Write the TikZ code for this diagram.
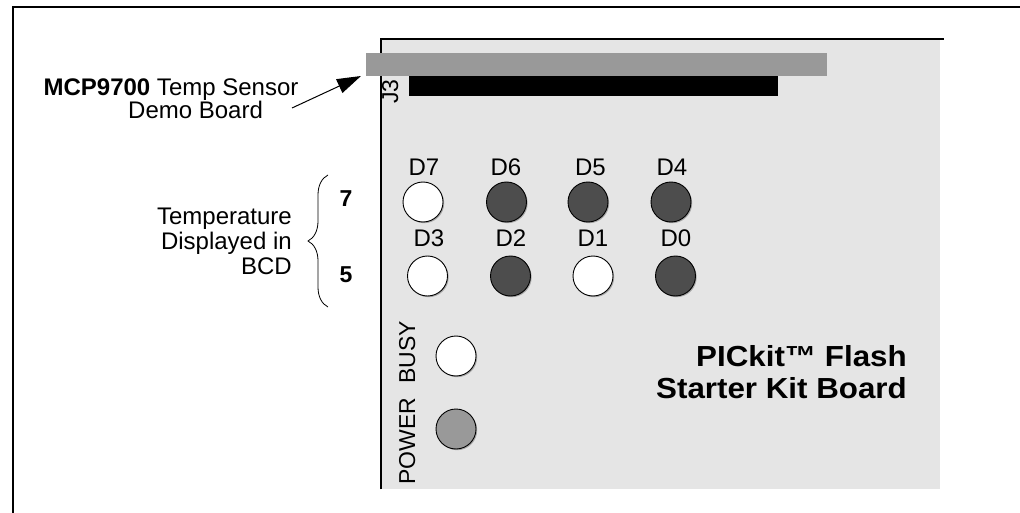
\documentclass[tikz,border=0pt]{standalone}
\usepackage{fontspec}
\setmainfont{Liberation Sans}
\newfontfamily\titlefont{Liberation Sans}[FakeStretch=1.08]
\usetikzlibrary{arrows.meta,decorations.pathreplacing,shadows}
\definecolor{boardgray}{HTML}{E5E5E5}
\definecolor{bargray}{HTML}{999999}
\definecolor{ledoff}{HTML}{4D4D4D}
\definecolor{ledpow}{HTML}{999999}
\begin{document}
\begin{tikzpicture}[x=1pt,y=-1pt,
  led/.style={circle, draw=black, line width=0.9pt, minimum size=40pt, inner sep=0pt,
    drop shadow={shadow xshift=1.2pt, shadow yshift=-1.2pt, fill=black!50, opacity=0.6}},
  ledwhite/.style={led, fill=white},
  leddark/.style={led, fill=ledoff},
  ledgray/.style={led, fill=ledpow},
  txt/.style={font=\fontsize{24}{26}\selectfont, inner sep=0pt},
  lbl/.style={font=\fontsize{24}{26}\selectfont, inner sep=0pt, anchor=base},
  vert/.style={font=\fontsize{23}{25}\selectfont, inner sep=0pt, rotate=90, anchor=base west},
  titletxt/.style={font=\titlefont\fontsize{29}{31}\selectfont\bfseries, inner sep=0pt, anchor=base east},
  digit/.style={font=\fontsize{23}{25}\selectfont\bfseries, inner sep=0pt, anchor=base},
  frame/.style={line width=2pt}
]
\useasboundingbox (0,0) rectangle (1020,513);
% outer frame
\coordinate (fbl) at (13,514);
\coordinate (ftl) at (13,7);
\coordinate (ftr) at (1021,7);
\draw[frame] (fbl) -- (ftl) -- (ftr);
% board
\node[fill=boardgray, anchor=north west, minimum width=559pt, minimum height=450pt, inner sep=0pt] (board) at (381,39) {};
\coordinate (bend) at (944,39);
\draw[frame] (board.south west) -- (board.north west) -- (bend);
% connector bars
\node[fill=bargray, anchor=north west, minimum width=461pt, minimum height=23pt, inner sep=0pt] (bar) at (366,53) {};
\node[fill=black, anchor=north west, minimum width=369pt, minimum height=20pt, inner sep=0pt] (hdr) at (409,76) {};
\node[vert] (j3) at (398,104) {J3};
% arrow label
\node[txt, anchor=base] (mcp) at (171,96) {\textbf{MCP9700} Temp Sensor};
\node[txt, anchor=base west] (demo) at (128,119) {Demo Board};
\coordinate (atail) at (292,108);
\coordinate (atip) at (361,76);
\draw[line width=1pt, -{Triangle[length=24pt,width=15pt]}] (atail) -- (atip);
% LEDs row 1
\node[ledwhite] (d7) at (423,202) {};
\node[leddark] (d6) at (506.5,202) {};
\node[leddark] (d5) at (588,202) {};
\node[leddark] (d4) at (671,202) {};
\node[lbl] (ld7) at (424,176) {D7};
\node[lbl] (ld6) at (506,176) {D6};
\node[lbl] (ld5) at (590.5,176) {D5};
\node[lbl] (ld4) at (672,176) {D4};
% LEDs row 2
\node[ledwhite] (d3) at (427.5,276) {};
\node[leddark] (d2) at (510.5,276) {};
\node[ledwhite] (d1) at (593,276) {};
\node[leddark] (d0) at (675.5,276) {};
\node[lbl] (ld3) at (429,247) {D3};
\node[lbl] (ld2) at (511,247) {D2};
\node[lbl] (ld1) at (593,247) {D1};
\node[lbl] (ld0) at (676,247) {D0};
% status LEDs
\node[ledwhite] (busy) at (456,356) {};
\node[ledgray] (power) at (456,429) {};
\node[vert] (lbusy) at (415,384) {BUSY};
\node[vert] (lpower) at (415,485) {POWER};
% board title
\node[titletxt] (t1) at (907,366) {PICkit™ Flash};
\node[titletxt] (t2) at (907,398) {Starter Kit Board};
% BCD brace
\coordinate (bb) at (328,307);
\coordinate (bt) at (328,175);
\draw[line width=0.8pt, decorate, decoration={brace, amplitude=20pt}] (bb) -- (bt);
\node[digit] (seven) at (346,207) {7};
\node[digit] (five) at (346,282) {5};
\node[txt, anchor=base east] (tl1) at (292,225) {Temperature};
\node[txt, anchor=base east] (tl2) at (292,249) {Displayed in};
\node[txt, anchor=base east] (tl3) at (292,274) {BCD};
\end{tikzpicture}
\end{document}
